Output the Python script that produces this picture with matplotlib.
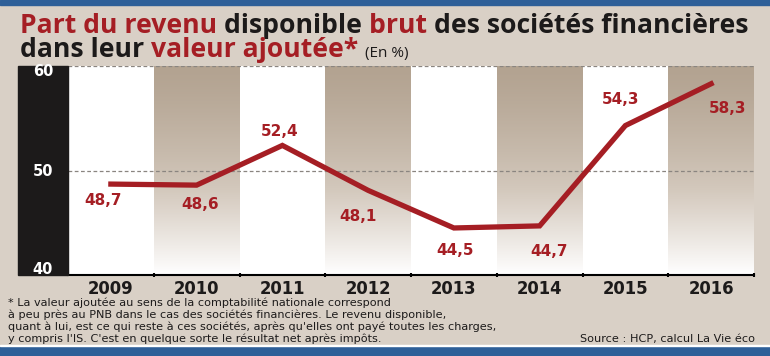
import numpy as np
import matplotlib.pyplot as plt
from matplotlib.colors import LinearSegmentedColormap

years = ['2009', '2010', '2011', '2012', '2013', '2014', '2015', '2016']
values = [48.7, 48.6, 52.4, 48.1, 44.5, 44.7, 54.3, 58.3]
labels = ['48,7', '48,6', '52,4', '48,1', '44,5', '44,7', '54,3', '58,3']
yticks = [40, 50, 60]

# label offsets in pixels (dx, dy), dy positive = upward
offsets = [(-8, -16), (4, -19), (-3, 14), (-10, -26), (1, -23), (9, -26), (-5, 26), (16, -25)]

RED = '#a51e24'
BEIGE = '#d9d0c6'
BLUE = '#2e5f98'
INK = '#1c1a1a'
NARROW = ['Liberation Sans Narrow', 'DejaVu Sans']
TITLE = ['Open Sans', 'DejaVu Sans']
W, H = 770, 356

fig = plt.figure(figsize=(W / 100, H / 100), dpi=100)
fig.patch.set_facecolor(BEIGE)
renderer = fig.canvas.get_renderer()


def px(x, y):
    return x / W, 1 - y / H


def fit(txt, width, family, weight='normal', start=10):
    probe = fig.text(0, 0, txt, fontsize=start, family=family, fontweight=weight)
    s = start * width / probe.get_window_extent(renderer).width
    probe.remove()
    return s


# blue bands top and bottom
fig.add_artist(plt.Rectangle(px(0, 5), 1, 5 / H, color=BLUE, transform=fig.transFigure))
fig.add_artist(plt.Rectangle(px(0, 356), 1, 10 / H, color=BLUE, transform=fig.transFigure))
fig.add_artist(plt.Rectangle(px(0, 346), 1, 1 / H, color='white', transform=fig.transFigure))

# black y-axis column
fig.add_artist(plt.Rectangle(px(18, 275), 50 / W, 209 / H, color=INK,
                             transform=fig.transFigure))
for v, yy in zip(yticks, [270, 171, 72]):
    fig.text(*px(43, yy), str(v), color='white', fontsize=10.5, fontweight='bold',
             ha='center', va='center', family='DejaVu Sans')

l, r, t, b = 68, 754, 66, 275
ax = fig.add_axes([l / W, 1 - b / H, (r - l) / W, (b - t) / H])
ax.set_facecolor('white')
n = len(years)
ax.set_xlim(0, n)
ax.set_ylim(40, 60)

cmap = LinearSegmentedColormap.from_list('g', ['#b3a391', '#d3c8bc', '#ffffff'])
grad = np.linspace(0, 1, 256).reshape(-1, 1) ** 1.3
for i in range(n):
    if i % 2 == 1:
        ax.imshow(grad, cmap=cmap, extent=[i, i + 1, 40, 60], aspect='auto',
                  origin='upper', zorder=0)

for v in [50, 60]:
    ax.axhline(v, color='#8a8580', lw=0.9, ls=(0, (3, 2)), zorder=1)

x = np.arange(n) + 0.5
ax.plot(x, values, color=RED, lw=3.8, solid_joinstyle='miter', zorder=3)
for xi, v, lab, (dx, dy) in zip(x, values, labels, offsets):
    ax.annotate(lab, (xi, v), xytext=(dx * 0.72, dy * 0.72), textcoords='offset points',
                ha='center', va='center', color=RED, fontsize=11, fontweight='bold',
                family='DejaVu Sans')

for s in ['left', 'right', 'top']:
    ax.spines[s].set_visible(False)
ax.spines['bottom'].set_linewidth(1.5)
ax.set_yticks([])
ax.set_xticks(np.arange(1, n + 1))
ax.set_xticklabels([])
ax.tick_params(axis='x', length=3, width=1.5, direction='inout')

# year labels under each column
ysz = fit('2009', 46, NARROW, 'bold')
for xi, yr in zip(x, years):
    xf = (l + xi / n * (r - l)) / W
    fig.text(xf, 1 - 289 / H, yr, ha='center', va='center', fontsize=ysz,
             fontweight='bold', color=INK, family=NARROW)


def line(pieces, x0, y0, size, small=None):
    xc = x0
    for txt, col in pieces:
        s = small if (small and txt.startswith('(')) else size
        w = 'normal' if txt.startswith('(') else 'bold'
        tt = fig.text(*px(xc, y0), txt, color=col, fontsize=s, fontweight=w,
                      family=TITLE, va='baseline', ha='left')
        xc += tt.get_window_extent(renderer).width


title1 = [('Part du revenu ', RED), ('disponible ', INK), ('brut ', RED),
          ('des sociétés financières', INK)]
tsz = fit(''.join(p[0] for p in title1), 728, TITLE, 'bold')
line(title1, 20, 33, tsz)
line([('dans leur ', INK), ('valeur ajoutée* ', RED), ('(En %)', INK)], 20, 57, tsz, small=11)

notes = ["* La valeur ajoutée au sens de la comptabilité nationale correspond",
         "à peu près au PNB dans le cas des sociétés financières. Le revenu disponible,",
         "quant à lui, est ce qui reste à ces sociétés, après qu'elles ont payé toutes les charges,",
         "y compris l'IS. C'est en quelque sorte le résultat net après impôts."]
nsz = min(fit(notes[2], 485, NARROW), 9.0)
for i, s in enumerate(notes):
    fig.text(*px(8, 306 + i * 12.0), s, fontsize=nsz, color=INK, va='baseline',
             family=NARROW)
fig.text(*px(755, 342), 'Source : HCP, calcul La Vie éco', fontsize=nsz, color=INK,
         va='baseline', ha='right', family=NARROW)

fig.savefig('out.png', dpi=100, facecolor=BEIGE)
